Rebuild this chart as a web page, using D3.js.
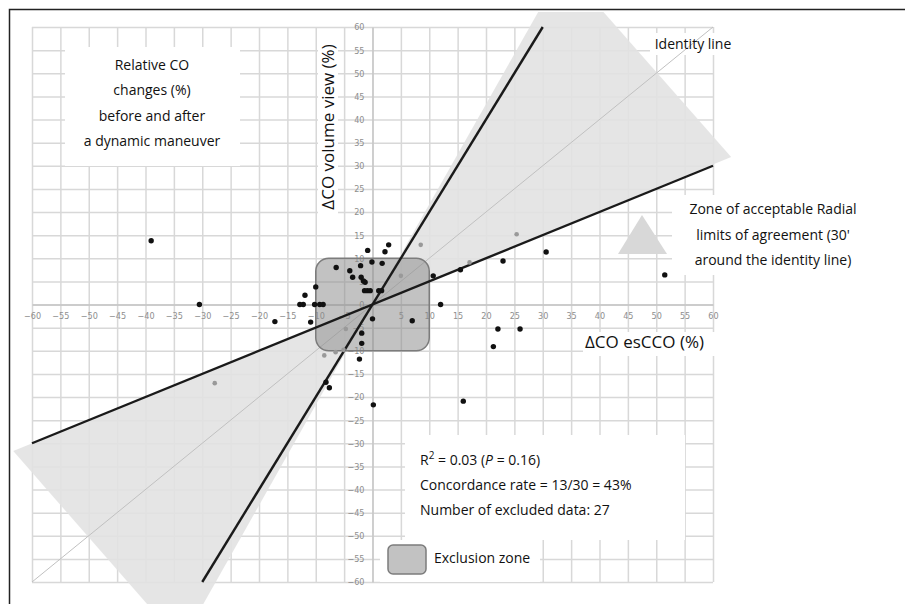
<!DOCTYPE html>
<html>
<head>
<meta charset="utf-8">
<script src="https://cdn.jsdelivr.net/npm/d3@7"></script>
<style>
  body { margin: 0; background: #fff; }
  text { font-family: "Open Sans", "Noto Sans", sans-serif; fill: #111; }
  .tick text { font-family: "DejaVu Sans Condensed", "DejaVu Sans", sans-serif; font-size: 9px; fill: #8e8e8e; }
</style>
</head>
<body>
<div id="chart"></div>
<script>
/**
 * DATA
 * */
const tickValues = d3.range(-60, 61, 5);

// black points, then the light gray ones
const darkPoints = [
  [-39, 13.8], [-30.5, 0], [-17.2, -3.7], [-12.8, 0], [-12.2, 0], [-11.9, 2.0],
  [-10.9, -3.8], [-10.0, 3.8], [-10.2, 0], [-9.3, 0], [-8.7, 0],
  [-8.2, -16.8], [-7.6, -18], [-6.4, 8.0], [-4.0, 7.3], [-3.5, 5.9], [-2.1, 8.4],
  [-2.0, 5.9], [-1.6, 5.1], [-1.3, 4.8], [-1.4, 3.0], [-0.9, 3.0], [-0.4, 3.0],
  [1.1, 3.0], [1.6, 3.0], [-0.85, 11.7], [2.2, 11.4], [2.85, 12.9], [-0.1, 9.2],
  [1.7, 8.9], [0, -3.1], [7.0, -3.5], [-1.9, -6.2], [-1.9, -8.4], [-2.3, -11.8],
  [0.15, -21.7], [12.0, 0], [10.7, 6.2], [15.5, 7.5], [23.0, 9.4], [30.6, 11.35],
  [51.5, 6.4], [22.1, -5.3], [26.0, -5.3], [21.3, -9.1], [16.0, -20.9]
];
const greyPoints = [
  [8.5, 12.9], [5.0, 6.2], [25.4, 15.2], [17.1, 9.1], [-4.7, -5.3],
  [-8.5, -11], [-6.5, -10.3], [-5.1, -9.8], [-27.8, -17.0]
];

// radial limits of agreement around the identity line
const zoneUpper = [[0, 0], [63.2, 31.9], [33.7, 73.0]];
const zoneLower = [[0, 0], [-63.3, -31.7], [-33.7, -73.2]];

const identityLine = [[-60, -60], [60, 60]];
const steepLine = [[-30, -60], [30, 60]];
const shallowLine = [[-60, -30], [60, 30]];

const exclusion = { x0: -10, x1: 10, y0: -10, y1: 10 };

const introLines = ["Relative CO", "changes (%)", "before and after", "a dynamic maneuver"];
const zoneLines = ["Zone of acceptable Radial", "limits of agreement (30'", "around the identity line)"];

/**
 * CONSTANTS
 * */
const width = 905, height = 604;
const plot = { left: 32, right: 713, top: 27, bottom: 582 };

const svg = d3.select("#chart").append("svg")
  .attr("width", width)
  .attr("height", height);

const x = d3.scaleLinear().domain([-60, 60]).range([plot.left, plot.right]);
const y = d3.scaleLinear().domain([-60, 60]).range([plot.bottom, plot.top]);

svg.append("defs").append("clipPath").attr("id", "frameClip")
  .append("rect").attr("x", 10).attr("y", 12).attr("width", width).attr("height", height);

// grid
svg.append("g")
  .attr("transform", `translate(0,${plot.bottom})`)
  .call(d3.axisBottom(x).tickValues(tickValues).tickSize(-(plot.bottom - plot.top)).tickFormat(""))
  .call(g => g.select(".domain").remove())
  .call(g => g.selectAll("line").attr("stroke", "#d8d8d8").attr("stroke-width", 1.5));

svg.append("g")
  .attr("transform", `translate(${plot.left},0)`)
  .call(d3.axisLeft(y).tickValues(tickValues).tickSize(-(plot.right - plot.left)).tickFormat(""))
  .call(g => g.select(".domain").remove())
  .call(g => g.selectAll("line").attr("stroke", "#d8d8d8").attr("stroke-width", 1.5));

// zone of agreement
const line = d3.line().x(d => x(d[0])).y(d => y(d[1]));
const zones = svg.append("g").attr("clip-path", "url(#frameClip)");
[zoneUpper, zoneLower].forEach(z => {
  zones.append("path")
    .attr("d", line(z) + "Z")
    .attr("fill", "#e2e2e2")
    .attr("opacity", 0.9);
});

// white label backgrounds
const boxes = [
  [65, 47, 175, 119], [318, 33, 20, 181], [650, 33, 86, 22],
  [672, 195, 200, 80], [583, 332, 132, 24], [405, 435, 280, 105], [380, 540, 160, 42]
];
svg.append("g").selectAll("rect").data(boxes).join("rect")
  .attr("x", d => d[0]).attr("y", d => d[1])
  .attr("width", d => d[2]).attr("height", d => d[3])
  .attr("fill", "#fff");

// axes through the origin
svg.append("g")
  .attr("transform", `translate(0,${y(0)})`)
  .call(d3.axisBottom(x).tickValues(tickValues.filter(v => v !== 0)).tickSize(0).tickPadding(8))
  .call(g => g.select(".domain").attr("stroke", "#c4c4c4").attr("stroke-width", 1.3));

svg.append("g")
  .attr("transform", `translate(${x(0)},0)`)
  .call(d3.axisLeft(y).tickValues(tickValues).tickSize(0).tickPadding(8))
  .call(g => g.select(".domain").attr("stroke", "#c4c4c4").attr("stroke-width", 1.3));

// identity line
svg.append("path")
  .attr("d", line(identityLine))
  .attr("stroke", "#c0c0c0")
  .attr("stroke-width", 1)
  .attr("fill", "none");

// exclusion zone
svg.append("rect")
  .attr("x", x(exclusion.x0))
  .attr("y", y(exclusion.y1))
  .attr("width", x(exclusion.x1) - x(exclusion.x0))
  .attr("height", y(exclusion.y0) - y(exclusion.y1))
  .attr("rx", 13)
  .attr("fill", "#8a8a8a")
  .attr("fill-opacity", 0.52)
  .attr("stroke", "#7c7c7c")
  .attr("stroke-width", 1.5);

// limit lines
[steepLine, shallowLine].forEach(l => {
  svg.append("path")
    .attr("d", line(l))
    .attr("stroke", "#1a1a1a")
    .attr("stroke-width", 2.4)
    .attr("fill", "none");
});

// points
svg.append("g").selectAll("circle").data(greyPoints).join("circle")
  .attr("cx", d => x(d[0])).attr("cy", d => y(d[1]))
  .attr("r", 2.3).attr("fill", "#999");

svg.append("g").selectAll("circle").data(darkPoints).join("circle")
  .attr("cx", d => x(d[0])).attr("cy", d => y(d[1]))
  .attr("r", 2.7).attr("fill", "#111");

// texts
svg.append("g").selectAll("text").data(introLines).join("text")
  .attr("x", 152).attr("y", (d, i) => 70 + i * 25.3)
  .attr("text-anchor", "middle")
  .style("font-size", "14px")
  .text(d => d);

svg.append("text")
  .attr("transform", "translate(334,127) rotate(-90)")
  .attr("text-anchor", "middle")
  .style("font-size", "17px")
  .text("ΔCO volume view (%)");

svg.append("text")
  .attr("x", 693).attr("y", 49)
  .attr("text-anchor", "middle")
  .style("font-size", "14px")
  .text("Identity line");

svg.append("g").selectAll("text").data(zoneLines).join("text")
  .attr("x", 773).attr("y", (d, i) => 214 + i * 25.5)
  .attr("text-anchor", "middle")
  .style("font-size", "14px")
  .text(d => d);

// small triangle symbol for the zone
svg.append("path")
  .attr("d", "M642,215 L667,254 L618,254 Z")
  .attr("fill", "#d8d8d8");

svg.append("text")
  .attr("x", 704).attr("y", 348)
  .attr("text-anchor", "end")
  .style("font-size", "17px")
  .text("ΔCO esCCO (%)");

const r2 = svg.append("text").attr("x", 420).attr("y", 465).style("font-size", "14px");
r2.append("tspan").text("R");
r2.append("tspan").attr("dy", -6).style("font-size", "10px").text("2");
r2.append("tspan").attr("dy", 6).text(" = 0.03 (");
r2.append("tspan").style("font-style", "italic").text("P");
r2.append("tspan").text(" = 0.16)");

svg.append("text").attr("x", 420).attr("y", 490).style("font-size", "14px")
  .text("Concordance rate = 13/30 = 43%");
svg.append("text").attr("x", 420).attr("y", 515).style("font-size", "14px")
  .text("Number of excluded data: 27");

svg.append("rect")
  .attr("x", 388).attr("y", 545).attr("width", 38).attr("height", 29).attr("rx", 5)
  .attr("fill", "#8a8a8a").attr("fill-opacity", 0.52)
  .attr("stroke", "#7c7c7c").attr("stroke-width", 1.5);
svg.append("text").attr("x", 434).attr("y", 563).style("font-size", "14px")
  .text("Exclusion zone");

// frame
svg.append("path")
  .attr("d", `M9.5,${height} V9.5 H${width}`)
  .attr("stroke", "#222")
  .attr("stroke-width", 1.5)
  .attr("fill", "none");
</script>
</body>
</html>
